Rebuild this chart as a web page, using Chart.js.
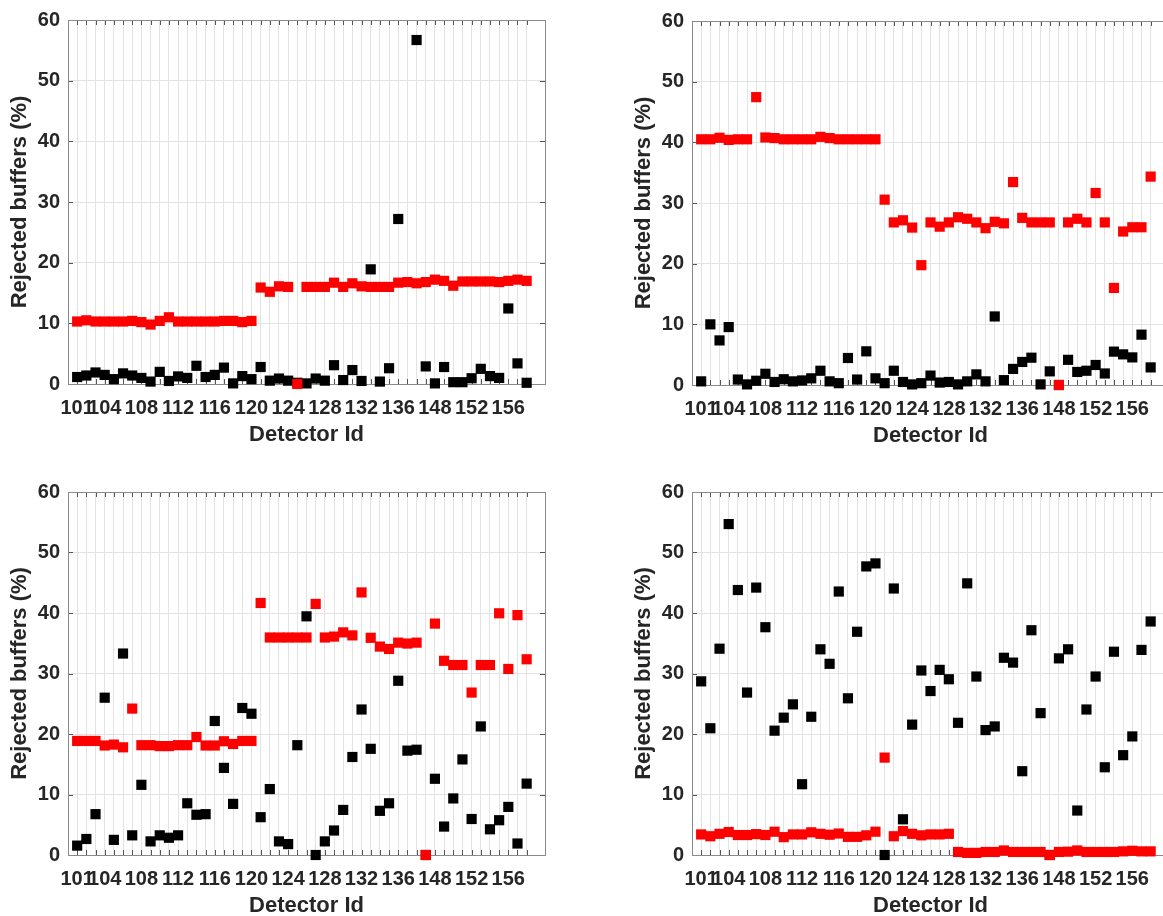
<!DOCTYPE html>
<html>
<head>
<title>Rejected buffers per detector</title>
<style>
  html, body { margin: 0; padding: 0; background: #fff; overflow: hidden; }
  body { width: 1163px; height: 916px; position: relative; }
  canvas { position: absolute; }
</style>
<script src="https://cdn.jsdelivr.net/npm/chart.js"></script>
</head>
<body>
<canvas id="panelA"></canvas>
<canvas id="panelB"></canvas>
<canvas id="panelC"></canvas>
<canvas id="panelD"></canvas>

<script>
// detector ids, one per x position (1..50)
const detectorIds = [101, 102, 103, 104, 105, 106, 107, 108, 109, 110,
                     111, 112, 113, 114, 115, 116, 117, 118, 119, 120,
                     121, 122, 123, 124, 125, 126, 127, 128, 129, 130,
                     131, 132, 133, 134, 135, 136, 145, 146, 147, 148,
                     149, 150, 151, 152, 153, 154, 155, 156, 157, 158];
// ids that get a tick label
const tickLabelIds = [101, 104, 108, 112, 116, 120, 124, 128, 132, 136, 148, 152, 156];
const yTicks = [0, 10, 20, 30, 40, 50, 60];

// top left
const panelA_red = [10.3, 10.5, 10.3, 10.3, 10.3, 10.3, 10.4, 10.2, 9.8, 10.4,
                    11.0, 10.3, 10.3, 10.3, 10.3, 10.3, 10.4, 10.4, 10.2, 10.4,
                    15.9, 15.2, 16.1, 16.0, 0.0, 16.0, 16.0, 16.0, 16.7, 16.0,
                    16.6, 16.1, 16.0, 16.0, 16.0, 16.7, 16.8, 16.6, 16.8, 17.2,
                    17.0, 16.2, 16.9, 16.9, 16.9, 16.9, 16.8, 17.0, 17.2, 17.0];
const panelA_black = [1.15, 1.4, 1.9, 1.5, 0.8, 1.75, 1.4, 1.0, 0.4, 2.0,
                      0.5, 1.25, 1.0, 3.0, 1.15, 1.5, 2.7, 0.1, 1.3, 0.8,
                      2.8, 0.55, 0.9, 0.55, 0.2, 0.1, 0.9, 0.55, 3.1, 0.65,
                      2.3, 0.5, 18.9, 0.4, 2.6, 27.2, null, 56.7, 2.9, 0.1,
                      2.8, 0.3, 0.3, 0.95, 2.5, 1.3, 1.0, 12.45, 3.4, 0.2];

// top right
const panelB_red = [40.5, 40.5, 40.75, 40.4, 40.5, 40.5, 47.45, 40.8, 40.7, 40.5,
                    40.5, 40.5, 40.5, 40.9, 40.7, 40.5, 40.5, 40.5, 40.5, 40.5,
                    30.55, 26.8, 27.15, 25.95, 19.75, 26.8, 26.1, 26.8, 27.65, 27.4,
                    26.8, 25.85, 26.9, 26.65, 33.45, 27.55, 26.8, 26.8, 26.8, 0.0,
                    26.8, 27.4, 26.8, 31.65, 26.8, 16.0, 25.3, 26.0, 26.0, 34.35];
const panelB_black = [0.6, 10.0, 7.35, 9.55, 0.9, 0.1, 0.7, 1.85, 0.5, 0.95,
                      0.6, 0.75, 1.1, 2.35, 0.6, 0.3, 4.45, 0.9, 5.55, 1.1,
                      0.3, 2.35, 0.5, 0.1, 0.3, 1.55, 0.4, 0.5, 0.1, 0.6,
                      1.75, 0.6, 11.3, 0.8, 2.65, 3.8, 4.5, 0.1, 2.25, 0.0,
                      4.15, 2.15, 2.35, 3.3, 1.9, 5.5, 5.05, 4.55, 8.3, 2.9];

// bottom left
const panelC_red = [18.85, 18.85, 18.85, 18.1, 18.25, 17.8, 24.2, 18.15, 18.15, 18.0,
                    18.0, 18.15, 18.15, 19.5, 18.1, 18.1, 18.8, 18.35, 18.85, 18.85,
                    41.65, 35.95, 35.95, 35.95, 35.95, 35.95, 41.5, 35.95, 36.1, 36.8,
                    36.3, 43.4, 35.9, 34.45, 34.05, 35.1, 34.95, 35.1, 0.0, 38.25,
                    32.1, 31.4, 31.4, 26.85, 31.4, 31.4, 39.95, 30.75, 39.65, 32.35];
const panelC_black = [1.55, 2.65, 6.75, 26.0, 2.5, 33.3, 3.25, 11.6, 2.25, 3.25,
                      2.85, 3.25, 8.55, 6.65, 6.75, 22.15, 14.4, 8.45, 24.3, 23.35,
                      6.25, 10.9, 2.25, 1.8, 18.15, 39.45, 0.0, 2.25, 4.05, 7.45,
                      16.2, 24.05, 17.55, 7.3, 8.55, 28.8, 17.25, 17.4, 0.0, 12.6,
                      4.7, 9.35, 15.8, 5.95, 21.25, 4.25, 5.75, 7.95, 1.9, 11.8];

// bottom right
const panelD_red = [3.4, 3.1, 3.5, 3.8, 3.3, 3.3, 3.45, 3.3, 3.85, 2.95,
                    3.4, 3.4, 3.75, 3.5, 3.35, 3.55, 3.0, 3.0, 3.25, 3.85,
                    16.1, 3.1, 3.95, 3.5, 3.25, 3.4, 3.4, 3.5, 0.5, 0.35,
                    0.35, 0.5, 0.5, 0.75, 0.5, 0.5, 0.5, 0.5, 0.0, 0.5,
                    0.55, 0.75, 0.5, 0.5, 0.5, 0.5, 0.6, 0.7, 0.6, 0.6];
const panelD_black = [28.7, 20.95, 34.1, 54.7, 43.8, 26.85, 44.2, 37.65, 20.55, 22.7,
                      24.9, 11.7, 22.85, 34.0, 31.6, 43.55, 25.9, 36.9, 47.7, 48.2,
                      0.0, 44.05, 5.9, 21.55, 30.5, 27.1, 30.6, 29.05, 21.85, 44.9,
                      29.5, 20.65, 21.25, 32.6, 31.8, 13.85, 37.15, 23.45, 0.0, 32.5,
                      34.0, 7.35, 24.05, 29.5, 14.5, 33.6, 16.5, 19.6, 33.9, 38.6];

const FONT = "'Liberation Sans', Arial, Helvetica, sans-serif";
const TEXT = '#262626';

// frame and inward tick marks, like the original plots
const boxPlugin = {
  id: 'box',
  beforeDatasetsDraw(chart) {
    const { ctx, chartArea: a, scales } = chart;
    const x = scales.x, y = scales.y;
    const len = 5;
    ctx.save();
    ctx.lineWidth = 1;
    ctx.strokeStyle = '#555';
    ctx.beginPath();
    x.ticks.forEach(t => {
      const px = Math.round(x.getPixelForValue(t.value)) + 0.5;
      ctx.moveTo(px, a.bottom); ctx.lineTo(px, a.bottom - len);
      ctx.moveTo(px, a.top); ctx.lineTo(px, a.top + len);
    });
    y.ticks.forEach(t => {
      const py = Math.round(y.getPixelForValue(t.value)) + 0.5;
      ctx.moveTo(a.left, py); ctx.lineTo(a.left + len, py);
      ctx.moveTo(a.right, py); ctx.lineTo(a.right - len, py);
    });
    ctx.stroke();
    ctx.strokeStyle = '#8a8a8a';
    ctx.strokeRect(Math.round(a.left) + 0.5, Math.round(a.top) + 0.5,
                   Math.round(a.width), Math.round(a.height));
    ctx.restore();
  }
};

function toPoints(values) {
  return values.map((v, i) => ({ x: i + 1, y: v }));
}

function makePanel(id, left, top, right, bottom, red, black) {
  const canvas = document.getElementById(id);
  const padL = 68, padT = 19, padR = 35, padB = 76;
  const w = (right - left) + padL + padR;
  const h = (bottom - top) + padT + padB;
  canvas.width = w; canvas.height = h;
  canvas.style.left = (left - padL) + 'px';
  canvas.style.top = (top - padT) + 'px';
  canvas.style.width = w + 'px';
  canvas.style.height = h + 'px';

  return new Chart(canvas.getContext('2d'), {
    type: 'scatter',
    data: {
      datasets: [
        { data: toPoints(red), backgroundColor: '#ff0000', pointStyle: 'rect',
          pointRadius: 7.2, pointBorderWidth: 0, clip: false },
        { data: toPoints(black), backgroundColor: '#000000', pointStyle: 'rect',
          pointRadius: 7.2, pointBorderWidth: 0, clip: false }
      ]
    },
    options: {
      responsive: false,
      animation: false,
      devicePixelRatio: 1,
      layout: { padding: { left: 0, top: padT, right: padR, bottom: 0 } },
      plugins: { legend: { display: false }, tooltip: { enabled: false } },
      scales: {
        x: {
          type: 'linear', min: 0, max: 52,
          afterBuildTicks: scale => {
            scale.ticks = detectorIds.map((d, i) => ({ value: i + 1 }));
          },
          afterFit: scale => { scale.height = padB; },
          grid: { color: '#e3e3e3', drawTicks: false },
          border: { display: false },
          ticks: {
            autoSkip: false, maxRotation: 0, minRotation: 0, padding: 12,
            color: TEXT, font: { family: FONT, size: 20, weight: 'bold' },
            callback: v => {
              const d = detectorIds[v - 1];
              return tickLabelIds.includes(d) ? String(d) : '';
            }
          },
          title: {
            display: true, text: 'Detector Id', color: TEXT,
            font: { family: FONT, size: 22, weight: 'bold' },
            padding: { top: 0, bottom: 12 }
          }
        },
        y: {
          min: 0, max: 60,
          afterBuildTicks: scale => { scale.ticks = yTicks.map(v => ({ value: v })); },
          afterFit: scale => { scale.width = padL; },
          grid: { color: '#e3e3e3', drawTicks: false },
          border: { display: false },
          ticks: {
            padding: 8, color: TEXT,
            font: { family: FONT, size: 20, weight: 'bold' }
          },
          title: {
            display: true, text: 'Rejected buffers (%)', color: TEXT,
            font: { family: FONT, size: 22, weight: 'bold' },
            padding: { top: 7, bottom: 0 }
          }
        }
      }
    },
    plugins: [boxPlugin]
  });
}

makePanel('panelA', 68, 19, 545, 384, panelA_red, panelA_black);
makePanel('panelB', 692, 20, 1169, 385, panelB_red, panelB_black);
makePanel('panelC', 68, 491, 545, 855, panelC_red, panelC_black);
makePanel('panelD', 692, 491, 1169, 855, panelD_red, panelD_black);
</script>
</body>
</html>
